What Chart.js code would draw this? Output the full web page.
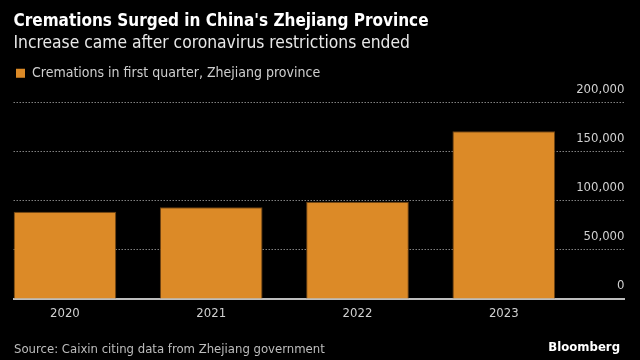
<!DOCTYPE html>
<html>
<head>
<meta charset="utf-8">
<title>Cremations Surged in China's Zhejiang Province</title>
<script src="https://cdn.jsdelivr.net/npm/chart.js@4.4.1/dist/chart.umd.min.js"></script>
<style>
    html, body { margin: 0; padding: 0; background: #000; }
    canvas { display: block; }
</style>
</head>
<body>
<canvas id="cremations-chart" width="640" height="360"></canvas>
<script>
// Chart data (read from the Bloomberg graphic)
const years = ['2020', '2021', '2022', '2023'];
const cremations = [88800, 93500, 99200, 171000];
const yTicks = [0, 50000, 100000, 150000, 200000];

const seriesLabel = 'Cremations in first quarter, Zhejiang province';
const titleText = "Cremations Surged in China's Zhejiang Province";
const subtitleText = 'Increase came after coronavirus restrictions ended';
const sourceText = 'Source: Caixin citing data from Zhejiang government';

const FONT = '"Liberation Sans Narrow", "DejaVu Sans Condensed", sans-serif';
const ORANGE = '#dc8a27';

// Source line and logo at the bottom
const footerPlugin = {
    id: 'footer',
    afterDraw: function(chart) {
        const ctx = chart.ctx;
        ctx.save();
        ctx.textBaseline = 'middle';
        ctx.textAlign = 'left';
        ctx.font = '13px ' + FONT;
        ctx.fillStyle = '#bdbdbd';
        ctx.fillText(sourceText, 14, 350);
        ctx.textAlign = 'right';
        ctx.font = 'bold 13px ' + FONT;
        ctx.fillStyle = '#ffffff';
        ctx.fillText('Bloomberg', 620, 348);
        ctx.restore();
    }
};

// Extra room between the legend and the plot
const legendSpacer = {
    id: 'legendSpacer',
    beforeInit: function(chart) {
        const originalFit = chart.legend.fit;
        chart.legend.fit = function() {
            originalFit.bind(chart.legend)();
            this.height += 12.7;
        };
    }
};

document.addEventListener('DOMContentLoaded', function() {
    const canvas = document.getElementById('cremations-chart');

    new Chart(canvas, {
        type: 'bar',
        data: {
            datasets: [{
                label: seriesLabel,
                data: years.map((year, i) => ({ x: Number(year), y: cremations[i] })),
                backgroundColor: ORANGE,
                borderColor: '#6a4114',
                borderWidth: 1,
                barPercentage: 0.702,
                categoryPercentage: 1
            }]
        },
        options: {
            responsive: false,
            animation: false,
            layout: {
                padding: { left: 13.5, right: 15.5, top: 0, bottom: 31.5 }
            },
            plugins: {
                title: {
                    display: true,
                    text: titleText,
                    align: 'start',
                    color: '#ffffff',
                    font: { family: FONT, size: 17, weight: 'bold', lineHeight: 1.2 },
                    padding: { top: 11.5, bottom: 1 }
                },
                subtitle: {
                    display: true,
                    text: subtitleText,
                    align: 'start',
                    color: '#e8e8e8',
                    font: { family: FONT, size: 17.3, lineHeight: 1.2 },
                    padding: { top: 0, bottom: 10 }
                },
                legend: {
                    display: true,
                    align: 'start',
                    labels: {
                        color: '#cfcfcf',
                        font: { family: FONT, size: 14 },
                        boxWidth: 9,
                        boxHeight: 9,
                        padding: 2.5,
                        generateLabels: function(chart) {
                            const items = Chart.defaults.plugins.legend.labels.generateLabels(chart);
                            return items.map(function(item) {
                                item.lineWidth = 0;
                                item.strokeStyle = item.fillStyle;
                                return item;
                            });
                        }
                    }
                },
                tooltip: { enabled: false }
            },
            scales: {
                x: {
                    type: 'linear',
                    offset: false,
                    min: 2019.6487,
                    max: 2023.825,
                    grid: { display: false, drawTicks: false },
                    border: { display: true, color: '#bdbdbd', width: 2 },
                    ticks: {
                        stepSize: 1,
                        includeBounds: false,
                        maxRotation: 0,
                        padding: 7,
                        color: '#d0d0d0',
                        font: { family: FONT, size: 13 },
                        callback: function(value) {
                            return years.includes(String(value)) ? String(value) : '';
                        }
                    }
                },
                y: {
                    position: 'right',
                    min: yTicks[0],
                    max: yTicks[yTicks.length - 1],
                    afterBuildTicks: function(scale) {
                        scale.ticks = yTicks.map(v => ({ value: v }));
                    },
                    grid: { color: '#808080', lineWidth: 1, drawTicks: false },
                    border: { display: false, dash: [1.5, 1.5] },
                    ticks: {
                        mirror: true,
                        padding: 0,
                        labelOffset: -13.5,
                        color: '#d0d0d0',
                        font: { family: FONT, size: 13 },
                        callback: function(value) {
                            return value.toLocaleString('en-US');
                        }
                    }
                }
            }
        },
        plugins: [footerPlugin, legendSpacer]
    });
});
</script>
</body>
</html>
